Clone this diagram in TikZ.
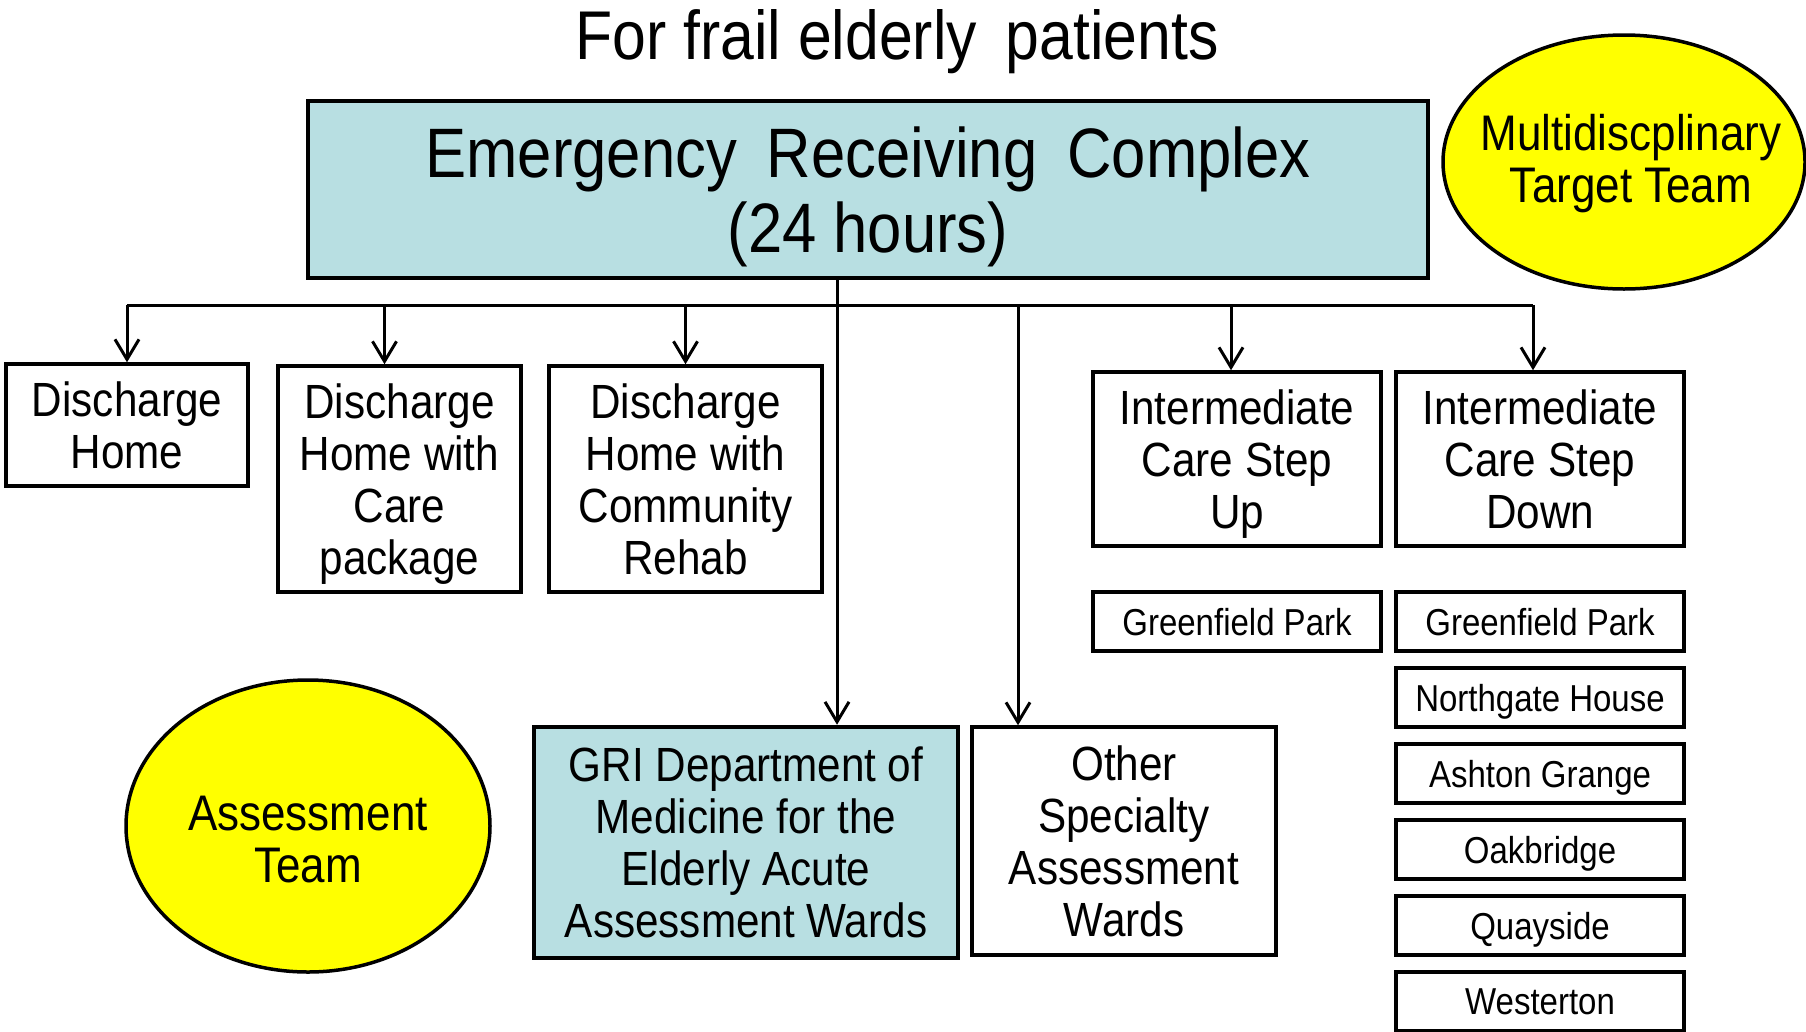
\documentclass[tikz,border=0pt]{standalone}
\usepackage{fontspec}
\setmainfont[FakeStretch=0.88]{Liberation Sans}
\usetikzlibrary{positioning,arrows.meta,shapes.geometric}

\definecolor{wardblue}{RGB}{184,223,226}
\definecolor{teamyellow}{RGB}{255,255,0}

\tikzset{Box/.style={draw,black,line width=3.5pt,rectangle,inner sep=0pt,align=center,text depth=0pt,font=\fontsize{48}{52}\selectfont}}
\tikzset{Site/.style={Box,minimum width=288pt,minimum height=59pt,font=\fontsize{37.5}{40}\selectfont}}
\tikzset{Team/.style={draw,black,line width=3.5pt,ellipse,fill=teamyellow,inner sep=0pt}}
\tikzset{TeamText/.style={align=center,inner sep=0pt,font=\fontsize{50}{52}\selectfont}}
\tikzset{Flow/.style={line width=3pt,-{Straight Barb[length=20pt,width=24pt]}}}

\begin{document}
\begin{tikzpicture}[x=1pt,y=-1pt]

\useasboundingbox (0,0) rectangle (1806,1031);

\node[font=\fontsize{69}{72}\selectfont,anchor=base] (title) at (897,59) {For frail elderly\hspace{12pt} patients};

\node[Box,fill=wardblue,line width=4.5pt,minimum width=1120pt,minimum height=177pt,font=\fontsize{70}{75}\selectfont] (erc) at (868,189.5) {\spaceskip=30pt Emergency Receiving Complex\\(24 hours)};
\node[Team,minimum width=362pt,minimum height=254pt] (mtt) at (1624,162) {};
\node[TeamText] (mttText) at ([xshift=7pt,yshift=-2pt]mtt.center) {Multidiscplinary\\Target Team};

% discharge routes
\node[Box,minimum width=242pt,minimum height=122pt] (dh) at (127,425) {Discharge\\Home};
\node[Box,minimum width=243pt,minimum height=226pt] (dhc) at (399.5,479) {Discharge\\Home with\\Care\\package};
\node[Box,minimum width=273pt,minimum height=226pt] (dhr) at (685.5,479) {Discharge\\Home with\\Community\\Rehab};

% intermediate care
\node[Box,minimum width=288pt,minimum height=174pt] (icu) at (1237,459) {Intermediate\\Care Step\\Up};
\node[Box,minimum width=288pt,minimum height=174pt] (icd) at (1540,459) {Intermediate\\Care Step\\Down};
\node[Site] (gpu) at (1237,621.5) {Greenfield Park};
\node[Site] (gpd) at (1540,621.5) {Greenfield Park};
\node[Site,below=13.5pt of gpd] (ngh) {Northgate House};
\node[Site,below=13.5pt of ngh] (ag) {Ashton Grange};
\node[Site,below=13.5pt of ag] (ob) {Oakbridge};
\node[Site,below=13.5pt of ob] (qs) {Quayside};
\node[Site,below=13.5pt of qs] (wt) {Westerton};

% assessment wards
\node[Team,minimum width=364pt,minimum height=292pt] (at) at (308,826) {};
\node[TeamText] (atText) at ([yshift=-14pt]at.center) {Assessment\\Team};
\node[Box,fill=wardblue,line width=4.5pt,minimum width=424pt,minimum height=231pt] (gri) at (746,842.5) {GRI Department of\\Medicine for the\\Elderly Acute\\Assessment Wards};
\node[Box,minimum width=304pt,minimum height=228pt] (osw) at (1124,841) {Other\\Specialty\\Assessment\\Wards};

% connectors
\coordinate (bus) at (0,305);
\coordinate (dhTop) at (dh.north);
\coordinate (dhcTop) at ([xshift=-15pt]dhc.north);
\coordinate (dhrTop) at (dhr.north);
\coordinate (icuTop) at ([xshift=-6pt]icu.north);
\coordinate (icdTop) at ([xshift=-7pt]icd.north);
\coordinate (griTop) at ([xshift=91pt]gri.north);
\coordinate (oswTop) at ([xshift=-106pt]osw.north);
\draw[line width=3pt] (dhTop |- bus) -- (icdTop |- bus);
\foreach \n in {dhTop,dhcTop,dhrTop,icuTop,icdTop,oswTop}
  \draw[Flow] (\n |- bus) -- (\n);
\draw[Flow] (griTop |- erc.south) -- (griTop);

\end{tikzpicture}
\end{document}
